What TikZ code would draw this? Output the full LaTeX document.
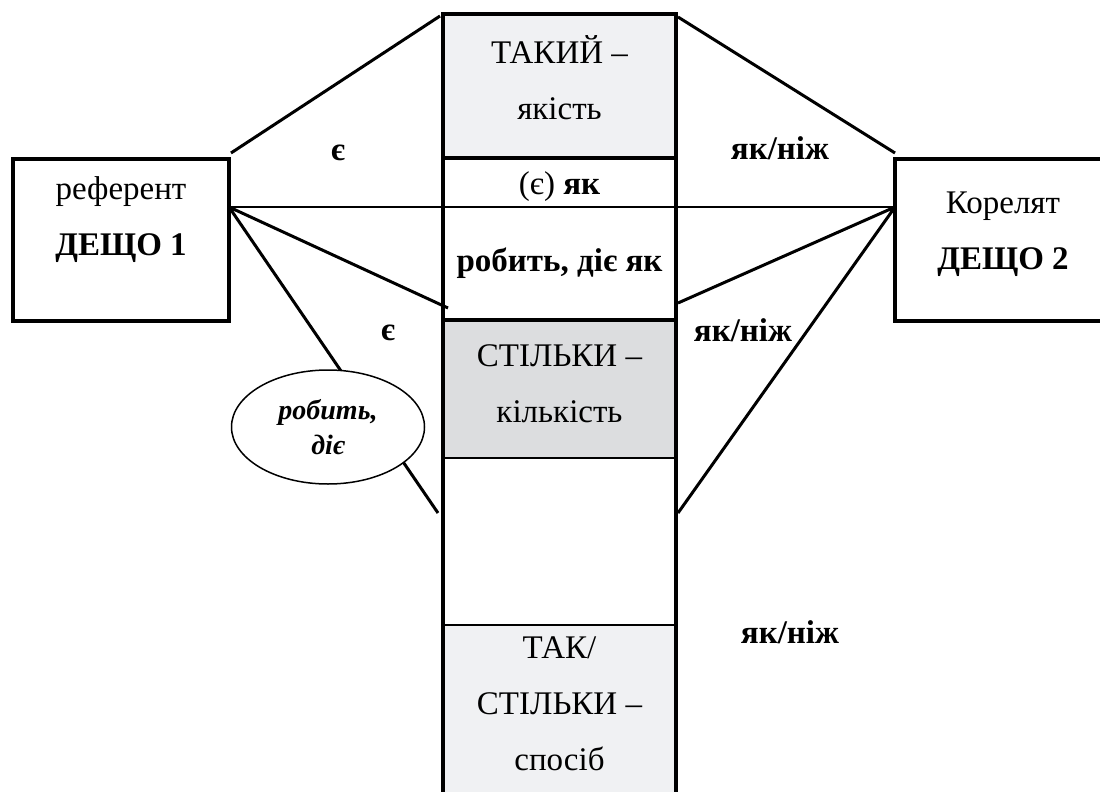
\documentclass[tikz,border=0pt]{standalone}
\usepackage{fontspec}
\setmainfont{Liberation Serif}
\usetikzlibrary{shapes.geometric, positioning}
\definecolor{palegray}{HTML}{F0F1F3}
\definecolor{midgray}{HTML}{DCDDDF}

\begin{document}
\begin{tikzpicture}[x=1pt, y=-1pt, font=\fontsize{33}{56}\selectfont,
        cell/.style={minimum width=233pt, inner sep=0pt},
        thing/.style={rectangle, draw, line width=4pt, minimum width=216pt, minimum height=162pt},
        link/.style={line width=3pt},
        rel/.style={font=\fontsize{33}{40}\selectfont\bfseries}]
        \useasboundingbox (0,0) rectangle (1100,792);

        \node[cell, fill=palegray, minimum height=144pt] (quality) at (559.5,86) {};
        \node[cell, minimum height=49pt] (likewise) at (559.5,182.5) {};
        \node[cell, minimum height=113pt] (acting) at (559.5,263.5) {};
        \node[cell, fill=midgray, minimum height=138pt] (quantity) at (559.5,389) {};
        \node[cell, fill=palegray, minimum height=175pt] (manner) at (559.5,712.5) {};

        \node[align=center] (qualitytext) at (559.5,78) {ТАКИЙ –\\якість};
        \node (likewisetext) at (559.5,187) {(є) \textbf{як}};
        \node (actingtext) at (559.5,263) {\textbf{робить, діє як}};
        \node[align=center] (quantitytext) at (559.5,384) {СТІЛЬКИ –\\кількість};
        \node[align=center] (mannertext) at (559.5,704) {ТАК/\\СТІЛЬКИ –\\спосіб};

        \draw[line width=4.5pt] (manner.south west) -- (quality.north west) -- (quality.north east) -- (manner.south east);
        \draw[line width=4pt] (quality.south west) -- (quality.south east)
            (acting.south west) -- (acting.south east);
        \draw[line width=2.5pt] (quantity.south west) -- (quantity.south east)
            (manner.north west) -- (manner.north east);

        \node[thing] (ref) at (121,240) {};
        \node[align=center] (reftext) at (121,220) {референт\\\textbf{ДЕЩО 1}};
        \node[thing] (cor) at (1003,240) {};
        \node[align=center] (cortext) at (1003,234) {Корелят\\\textbf{ДЕЩО 2}};

        \coordinate (refpin) at (229,207);
        \coordinate (corpin) at (895,207);
        \coordinate (reftop) at (231,153);
        \coordinate (cortop) at (895,153);
        \coordinate (qualleft) at (440,16);
        \coordinate (qualright) at (678,17);
        \coordinate (actleft) at (448,308);
        \coordinate (actright) at (678,303);
        \coordinate (lowleft) at (438,513);
        \coordinate (lowright) at (678,513);

        \draw[line width=2.5pt] (refpin) to (corpin);
        \draw[link] (reftop) to (qualleft)
            (qualright) to (cortop)
            (refpin) to (actleft)
            (refpin) to (lowleft)
            (corpin) to (actright)
            (corpin) to (lowright);

        \node[ellipse, draw, fill=white, line width=1.5pt, minimum width=193pt, minimum height=114pt,
            align=center, font=\fontsize{28}{35}\selectfont\bfseries\itshape] (doing) at (328,427) {робить,\\діє};

        \node[rel] (is1) at (338,153) {є};
        \node[rel] (asthan1) at (780,148) {як/ніж};
        \node[rel] (is2) at (388,333) {є};
        \node[rel] (asthan2) at (743,330) {як/ніж};
        \node[rel] (asthan3) at (790,632) {як/ніж};
    \end{tikzpicture}
\end{document}
